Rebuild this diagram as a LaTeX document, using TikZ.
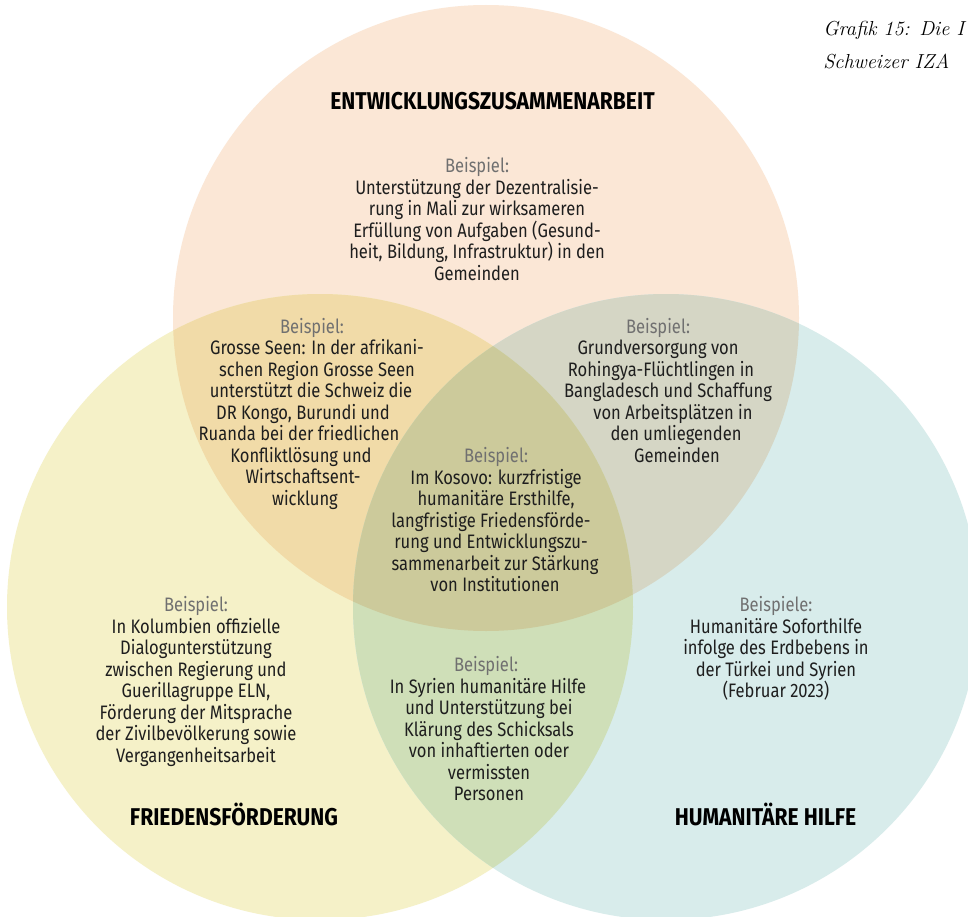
\documentclass[tikz,border=0pt]{standalone}
\usepackage{fontspec}
\newfontfamily\bodyfont{Fira Sans}[FakeStretch=0.85]
\newfontfamily\headfont{Fira Sans}[FakeStretch=0.87]
\definecolor{peachc}{HTML}{FBE7D6}
\definecolor{yellowc}{HTML}{F5F1C8}
\definecolor{tealc}{HTML}{D8ECEB}
\definecolor{tlc}{HTML}{F1DBA8}
\definecolor{trc}{HTML}{D5D6C5}
\definecolor{lrc}{HTML}{CFDFB8}
\definecolor{ctrc}{HTML}{CCCA9B}
\definecolor{graytext}{HTML}{707070}
\definecolor{bodytext}{HTML}{1E1E1E}
\newdimen\shunit \shunit=1.5pt
\newcommand\sh[1]{\hspace*{#1\shunit}}
\newcommand\bsp[1]{\rule{0pt}{12pt}\textcolor{graytext}{#1}}
\def\R{234.75pt}
\tikzset{
  body/.style={font=\bodyfont\fontsize{14.6pt}{16.1pt}\selectfont, align=center, text=bodytext, inner sep=0pt},
  head/.style={font=\headfont\bfseries\fontsize{18.2pt}{20pt}\selectfont, text=black, inner sep=0pt, anchor=base},
  capt/.style={font=\itshape\fontsize{15.2pt}{18pt}\selectfont, text=black, inner sep=0pt, anchor=base west}
}
\begin{document}
\begin{tikzpicture}[x=0.75pt,y=-0.75pt]
\useasboundingbox (0,0) rectangle (968,917);
\fill[white] (0,0) rectangle (968,917);
\coordinate (T) at (486,318);
\coordinate (L) at (320,607);
\coordinate (Rr) at (666,607);
% base circles
\fill[peachc] (T) circle (\R);
\fill[yellowc] (L) circle (\R);
\fill[tealc] (Rr) circle (\R);
% overlaps
\begin{scope}\clip (T) circle (\R); \fill[tlc] (L) circle (\R);\end{scope}
\begin{scope}\clip (T) circle (\R); \fill[trc] (Rr) circle (\R);\end{scope}
\begin{scope}\clip (L) circle (\R); \fill[lrc] (Rr) circle (\R);\end{scope}
\begin{scope}\clip (T) circle (\R); \clip (L) circle (\R); \fill[ctrc] (Rr) circle (\R);\end{scope}
% caption
\node[capt] (cap1) at (823,36) {Grafik 15: Die I};
\node[capt] (cap2) at (823,69) {Schweizer IZA};
% titles
\node[head] (tez) at (492.5,110) {ENTWICKLUNGSZUSAMMENARBEIT};
\node[head] (tfr) at (234,825) {FRIEDENSFÖRDERUNG};
\node[head] (thh) at (765.5,825) {HUMANITÄRE HILFE};
% texts
\node[body, anchor=north] (ez) at (477,156.7) {\bsp{Beispiel:}\\
Unterstützung der Dezentralisie-\\
rung in Mali zur wirksameren\\
Erfüllung von Aufgaben (Gesund-\\
heit, Bildung, Infrastruktur) in den\\
Gemeinden};
\node[body, anchor=north] (ezfr) at (312,317) {\bsp{Beispiel:}\\
\sh{5}Grosse Seen: In der afrikani-\\
\sh{5}schen Region Grosse Seen\\
\sh{-1}unterstützt die Schweiz die\\
\sh{-9}DR Kongo, Burundi und\\
\sh{-13}Ruanda bei der friedlichen\\
\sh{-11}Konfliktlösung und\\
\sh{-9}Wirtschaftsent-\\
\sh{-7}wicklung};
\node[body, anchor=north] (ezhh) at (658,317) {\bsp{Beispiel:}\\
Grundversorgung von\\
\sh{3}Rohingya-Flüchtlingen in\\
\sh{10}Bangladesch und Schaffung\\
\sh{15}von Arbeitsplätzen in\\
\sh{18}den umliegenden\\
\sh{19}Gemeinden};
\node[body, anchor=north] (all) at (496,446.7) {\bsp{Beispiel:}\\
Im Kosovo: kurzfristige\\
humanitäre Ersthilfe,\\
\sh{-5}langfristige Friedensförde-\\
\sh{-5}rung und Entwicklungszu-\\
\sh{-1}sammenarbeit zur Stärkung\\
\sh{-1}von Institutionen};
\node[body, anchor=north] (fr) at (196,595.7) {\bsp{Beispiel:}\\
In Kolumbien offizielle\\
Dialogunterstützung\\
zwischen Regierung und\\
Guerillagruppe ELN,\\
Förderung der Mitsprache\\
der Zivilbevölkerung sowie\\
Vergangenheitsarbeit};
\node[body, anchor=north] (frhh) at (489,655.7) {\sh{-3}\bsp{Beispiel:}\\
\sh{-1}In Syrien humanitäre Hilfe\\
und Unterstützung bei\\
Klärung des Schicksals\\
von inhaftierten oder\\
vermissten\\
Personen};
\node[body, anchor=north] (hh) at (776,595.7) {\bsp{Beispiele:}\\
Humanitäre Soforthilfe\\
infolge des Erdbebens in\\
der Türkei und Syrien\\
(Februar 2023)};
\end{tikzpicture}
\end{document}
